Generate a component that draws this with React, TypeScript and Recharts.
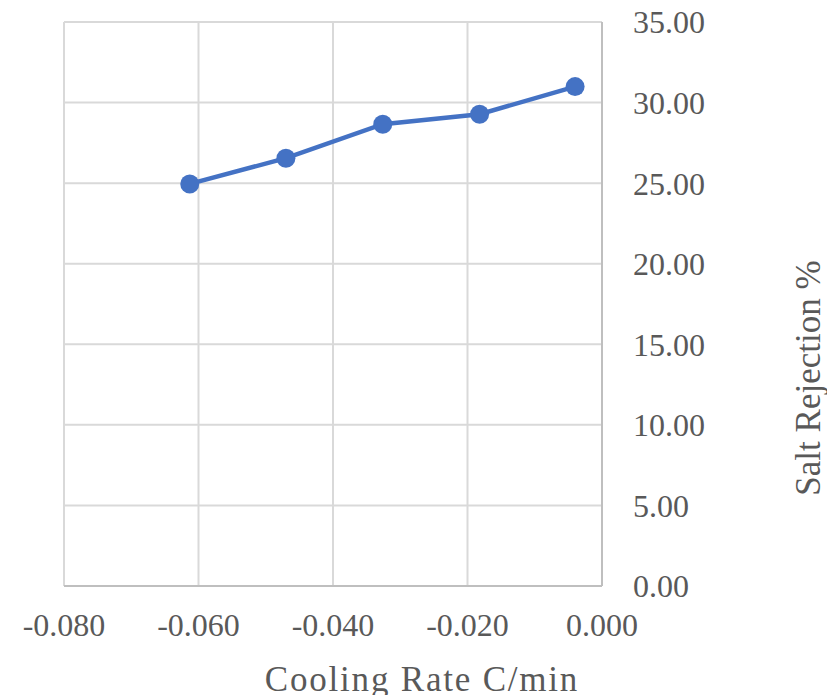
import { LineChart, Line, XAxis, YAxis, CartesianGrid, Label } from "recharts";

// cooling rate (C/min) vs measured salt rejection (%)
const coolingRate = [-0.0613, -0.047, -0.0326, -0.0182, -0.004];
const saltRejection = [24.95, 26.55, 28.66, 29.28, 30.99];

const xTicks = [-0.08, -0.06, -0.04, -0.02, 0];
const yTicks = [0, 5, 10, 15, 20, 25, 30, 35];

const data = coolingRate.map((rate, i) => ({ rate, rejection: saltRejection[i] }));

const FONT = '"Liberation Serif", "Times New Roman", serif';
const TEXT = "#595959";
const BLUE = "#4472C4";

const XTitle = (props: any) => {
  const vb = props.viewBox;
  return (
    <text
      x={vb.x + 358}
      y={vb.y + 105}
      textAnchor="middle"
      fill={TEXT}
      fontFamily={FONT}
      fontSize={35}
      letterSpacing={1.8}
    >
      Cooling Rate C/min
    </text>
  );
};

const YTitle = (props: any) => {
  const vb = props.viewBox;
  const cx = vb.x + 206;
  const cy = vb.y + 356;
  return (
    <text
      x={cx}
      y={cy}
      transform={`rotate(-90 ${cx} ${cy})`}
      textAnchor="middle"
      dominantBaseline="central"
      fill={TEXT}
      fontFamily={FONT}
      fontSize={35}
    >
      Salt Rejection %
    </text>
  );
};

export default function App() {
  return (
    <div style={{ position: "absolute", left: 0, top: 0 }}>
      <LineChart
        width={827}
        height={695}
        data={data}
        margin={{ top: 22, left: 64, right: 0, bottom: 0 }}
      >
        <CartesianGrid stroke="#d9d9d9" strokeWidth={2} />
        <XAxis
          type="number"
          dataKey="rate"
          domain={[-0.08, 0]}
          ticks={xTicks}
          tickFormatter={(v: number) => v.toFixed(3)}
          height={109}
          tickLine={false}
          tickMargin={21}
          axisLine={{ stroke: "#bfbfbf", strokeWidth: 2 }}
          tick={{ fill: TEXT, fontFamily: FONT, fontSize: 32 }}
          interval={0}
        >
          <Label content={XTitle} />
        </XAxis>
        <YAxis
          orientation="right"
          type="number"
          domain={[0, 35]}
          ticks={yTicks}
          tickFormatter={(v: number) => v.toFixed(2)}
          width={225}
          tickLine={false}
          tickMargin={25}
          axisLine={{ stroke: "#bfbfbf", strokeWidth: 2 }}
          tick={{ fill: TEXT, fontFamily: FONT, fontSize: 32, textAnchor: "start" }}
          interval={0}
        >
          <Label content={YTitle} />
        </YAxis>
        <Line
          type="linear"
          dataKey="rejection"
          stroke={BLUE}
          strokeWidth={4.5}
          dot={{ r: 9.5, fill: BLUE, stroke: BLUE, strokeWidth: 0 }}
          isAnimationActive={false}
        />
      </LineChart>
    </div>
  );
}
